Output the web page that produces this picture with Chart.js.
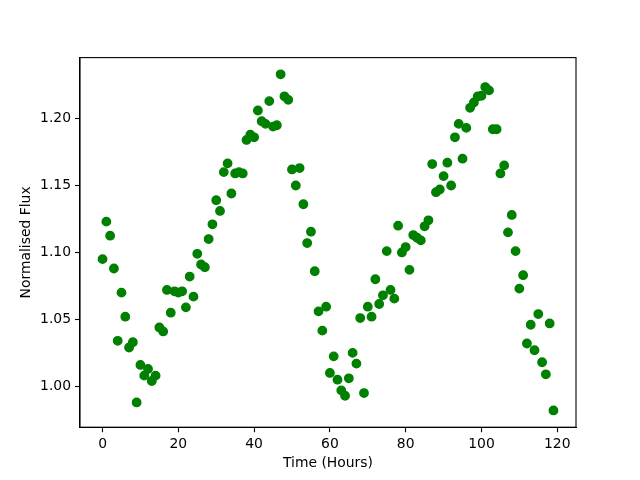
<!DOCTYPE html>
<html>
<head>
<meta charset="utf-8">
<script src="https://cdn.jsdelivr.net/npm/chart.js@4/dist/chart.umd.min.js"></script>
<style>
    html, body { margin: 0; padding: 0; background: #fff; }
    canvas { display: block; }
</style>
</head>
<body>
<canvas id="fluxChart" width="640" height="480"></canvas>
<script>
// Datos
const hours = [
    0, 1, 2, 3, 4, 5, 6, 7, 8, 9, 10, 11, 12, 13, 14, 15, 16, 17, 18, 19,
    20, 21, 22, 23, 24, 25, 26, 27, 28, 29, 30, 31, 32, 33, 34, 35, 36, 37, 38, 39,
    40, 41, 42, 43, 44, 45, 46, 47, 48, 49, 50, 51, 52, 53, 54, 55, 56, 57, 58, 59,
    60, 61, 62, 63, 64, 65, 66, 67, 68, 69, 70, 71, 72, 73, 74, 75, 76, 77, 78, 79,
    80, 81, 82, 83, 84, 85, 86, 87, 88, 89, 90, 91, 92, 93, 94, 95, 96, 97, 98, 99,
    100, 101, 102, 103, 104, 105, 106, 107, 108, 109, 110, 111, 112, 113, 114, 115, 116, 117, 118, 119
];
const flux = [
    1.095, 1.123, 1.1125, 1.088, 1.034, 1.070, 1.052, 1.029, 1.033, 0.988,
    1.016, 1.008, 1.013, 1.004, 1.008, 1.044, 1.041, 1.072, 1.055, 1.071,
    1.070, 1.071, 1.059, 1.082, 1.067, 1.099, 1.091, 1.089, 1.110, 1.121,
    1.139, 1.131, 1.160, 1.1665, 1.144, 1.159, 1.160, 1.159, 1.184, 1.188,
    1.186, 1.206, 1.198, 1.196, 1.213, 1.194, 1.195, 1.233, 1.2166, 1.214,
    1.162, 1.150, 1.163, 1.136, 1.107, 1.1155, 1.086, 1.056, 1.0416, 1.0595,
    1.010, 1.0224, 1.005, 0.997, 0.993, 1.006, 1.025, 1.017, 1.051, 0.995,
    1.0595, 1.052, 1.080, 1.0615, 1.068, 1.101, 1.072, 1.0655, 1.120, 1.100,
    1.104, 1.087, 1.113, 1.111, 1.109, 1.1195, 1.124, 1.166, 1.145, 1.147,
    1.157, 1.167, 1.150, 1.186, 1.196, 1.170, 1.193, 1.208, 1.212, 1.2165,
    1.217, 1.2235, 1.221, 1.192, 1.192, 1.159, 1.165, 1.115, 1.128, 1.101,
    1.073, 1.083, 1.032, 1.046, 1.027, 1.054, 1.018, 1.009, 1.047, 0.982
];
const xTicks = [0, 20, 40, 60, 80, 100, 120];
const yTicks = [1.00, 1.05, 1.10, 1.15, 1.20];

const FONT = { family: 'DejaVu Sans', size: 13.9 };

// Marco completo del área de trazado (como los ejes de matplotlib)
const frame = {
    id: 'frame',
    afterDatasetsDraw(chart) {
        const a = chart.chartArea;
        const ctx = chart.ctx;
        ctx.save();
        ctx.strokeStyle = '#000';
        ctx.lineWidth = 1.1;
        ctx.strokeRect(a.left, a.top, a.right - a.left, a.bottom - a.top);
        ctx.restore();
    }
};

new Chart(document.getElementById('fluxChart').getContext('2d'), {
    type: 'scatter',
    data: {
        datasets: [{
            data: hours.map((h, i) => ({ x: h, y: flux[i] })),
            backgroundColor: '#008000',
            borderColor: '#008000',
            borderWidth: 1.4,
            pointRadius: 4.2,
            pointHoverRadius: 4.2
        }]
    },
    options: {
        responsive: false,
        animation: false,
        layout: { padding: { top: 57.6, right: 64, left: 0, bottom: 0 } },
        plugins: {
            legend: { display: false },
            tooltip: { enabled: false }
        },
        scales: {
            x: {
                type: 'linear',
                min: -5.95,
                max: 124.95,
                afterBuildTicks: scale => { scale.ticks = xTicks.map(v => ({ value: v })); },
                afterFit: scale => { scale.height = 52.8; },
                ticks: { color: '#000', font: FONT, padding: 4, maxRotation: 0 },
                grid: { drawOnChartArea: false, drawTicks: true, tickLength: 5, tickColor: '#000', tickWidth: 1.1 },
                border: { color: '#000', width: 1.1 },
                title: { display: true, text: 'Time (Hours)', color: '#000', font: FONT, padding: { top: 0, bottom: 8 } }
            },
            y: {
                type: 'linear',
                min: 0.9695,
                max: 1.2455,
                afterBuildTicks: scale => { scale.ticks = yTicks.map(v => ({ value: v })); },
                afterFit: scale => { scale.width = 80; },
                ticks: { color: '#000', font: FONT, padding: 4, callback: v => v.toFixed(2) },
                grid: { drawOnChartArea: false, drawTicks: true, tickLength: 5, tickColor: '#000', tickWidth: 1.1 },
                border: { color: '#000', width: 1.1 },
                title: { display: true, text: 'Normalised Flux', color: '#000', font: FONT, padding: { top: 18, bottom: 0 } }
            }
        }
    },
    plugins: [frame]
});
</script>
</body>
</html>
